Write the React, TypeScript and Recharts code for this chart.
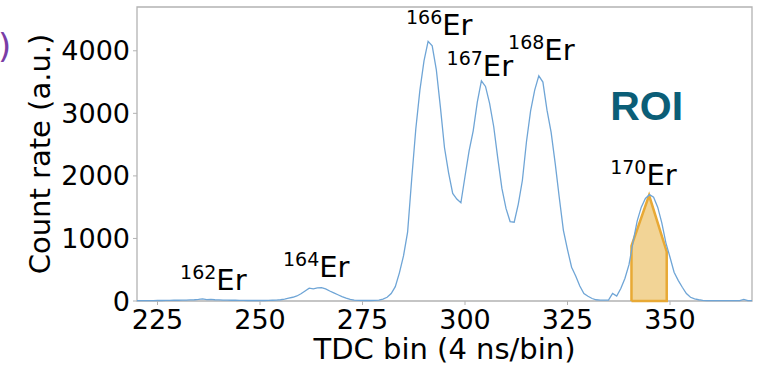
import { ComposedChart, Line, Area, XAxis, YAxis, ReferenceArea, ReferenceDot, Label } from 'recharts';

// TDC spectrum, one value per bin starting at bin 220
const firstBin = 220;
const counts = [
  5, 5, 5, 5, 5, 8, 8, 10, 10, 12,
  12, 15, 15, 18, 20, 25, 35, 22, 25, 20,
  18, 15, 15, 12, 12, 10, 10, 8, 8, 8,
  8, 8, 10, 12, 15, 20, 30, 45, 60, 80,
  115, 160, 205, 195, 210, 215, 195, 160, 130, 100,
  70, 45, 25, 15, 10, 8, 8, 8, 10, 15,
  30, 60, 120, 230, 450, 720, 1100, 1950, 2750, 3370,
  3840, 4150, 4080, 3700, 3100, 2450, 2050, 1720, 1630, 1570,
  1990, 2400, 2720, 3180, 3520, 3430, 3160, 2790, 2280, 1800,
  1480, 1270, 1260, 1550, 1930, 2550, 3040, 3370, 3600, 3500,
  3050, 2700, 2200, 1650, 1130, 820, 540, 400, 240, 120,
  75, 40, 20, 15, 15, 15, 120, 80, 200, 360,
  580, 950, 1280, 1500, 1640, 1700, 1660, 1500, 1250, 930,
  700, 460, 330, 220, 120, 60, 35, 20, 10, 5,
  5, 5, 5, 5, 5, 5, 5, 5, 25, 5,
  5,
];

// region of interest outline (bin, count)
const roiBins = [340.6, 340.6, 344.9, 349.2, 349.2, 340.6];
const roiCounts = [0, 880, 1690, 790, 0, 0];

// isotope annotations: mass number and where the label sits (bin, count at baseline)
const isotopes = [
  { mass: '162', x: 230.5, y: 176 },
  { mass: '164', x: 255.6, y: 383 },
  { mass: '166', x: 285.6, y: 4250 },
  { mass: '167', x: 295.5, y: 3594 },
  { mass: '168', x: 310.5, y: 3850 },
  { mass: '170', x: 335.4, y: 1853 },
];
const roiLabel = { x: 335.4, y: 2890 };

const xTicks = [225, 250, 275, 300, 325, 350];
const yTicks = [0, 1000, 2000, 3000, 4000];

const spectrum = counts.map((c, i) => ({ bin: firstBin + i, count: c }));
const roi = roiBins.map((b, i) => ({ bin: b, roi: roiCounts[i] }));

const FONT = 'DejaVu Sans, sans-serif';
const GREY = '#b3b3b3';

const isoLabel = (mass: string) => (p: any) => {
  const vb = p.viewBox;
  const x = vb.x + vb.width / 2;
  const y = vb.y + vb.height / 2;
  return (
    <text x={x} y={y} fontFamily={FONT} fill="#000">
      <tspan fontSize={19} dy={-11}>{mass}</tspan>
      <tspan fontSize={29} dy={11}>Er</tspan>
    </text>
  );
};

const roiText = (p: any) => {
  const vb = p.viewBox;
  return (
    <text x={vb.x + vb.width / 2} y={vb.y + vb.height / 2} fontFamily="Liberation Sans, Arial, sans-serif"
      fontWeight="bold" fontSize={41} fill="#0b5e77">ROI</text>
  );
};

const yTitle = (p: any) => {
  const vb = p.viewBox;
  const cx = vb.x + 40;
  const cy = vb.y + vb.height / 2;
  return (
    <text x={cx} y={cy} transform={`rotate(-90 ${cx} ${cy})`} textAnchor="middle" dominantBaseline="central"
      fontFamily={FONT} fontSize={29} fill="#000">Count rate (a.u.)</text>
  );
};

const xTitle = (p: any) => {
  const vb = p.viewBox;
  return (
    <text x={vb.x + vb.width / 2} y={vb.y + 58} textAnchor="middle" fontFamily={FONT} fontSize={29} fill="#000">
      TDC bin (4 ns/bin)
    </text>
  );
};

export default function App() {
  return (
    <div style={{ position: 'absolute', left: 0, top: 0, width: 758, height: 368, background: '#fff' }}>
      <svg width={20} height={80} style={{ position: 'absolute', left: 0, top: 0 }}>
        <text x={-2} y={58} fontFamily={FONT} fontSize={34} fill="#7a3da6">)</text>
      </svg>
      <ComposedChart width={758} height={368} margin={{ top: 7, right: 6, bottom: 0, left: 0 }}>
        <XAxis dataKey="bin" type="number" domain={[220, 370]} ticks={xTicks} allowDataOverflow
          axisLine={false} tickLine={{ stroke: GREY }} tickSize={4} tickMargin={5} height={67}
          tick={{ fontSize: 27, fill: '#000', fontFamily: FONT }}>
          <Label content={xTitle} />
        </XAxis>
        <YAxis type="number" domain={[0, 4700]} ticks={yTicks} axisLine={false} tickLine={{ stroke: GREY }}
          tickSize={4} tickMargin={3} width={137} tick={{ fontSize: 27, fill: '#000', fontFamily: FONT }}>
          <Label content={yTitle} />
        </YAxis>
        <ReferenceArea x1={220} x2={370} y1={0} y2={4700} fill="none" stroke={GREY} strokeWidth={1.3} />
        <Line data={spectrum} dataKey="count" type="linear" stroke="#6fa5d6" strokeWidth={1.3} dot={false}
          isAnimationActive={false} />
        <Area data={roi} dataKey="roi" type="linear" stroke="#e8a935" strokeWidth={2.5} fill="#f2d496"
          fillOpacity={1} baseValue={0} isAnimationActive={false} />
        {isotopes.map((d) => (
          <ReferenceDot key={d.mass} x={d.x} y={d.y} r={0} fill="none" stroke="none"
            label={{ content: isoLabel(d.mass) }} />
        ))}
        <ReferenceDot x={roiLabel.x} y={roiLabel.y} r={0} fill="none" stroke="none" label={{ content: roiText }} />
      </ComposedChart>
    </div>
  );
}
